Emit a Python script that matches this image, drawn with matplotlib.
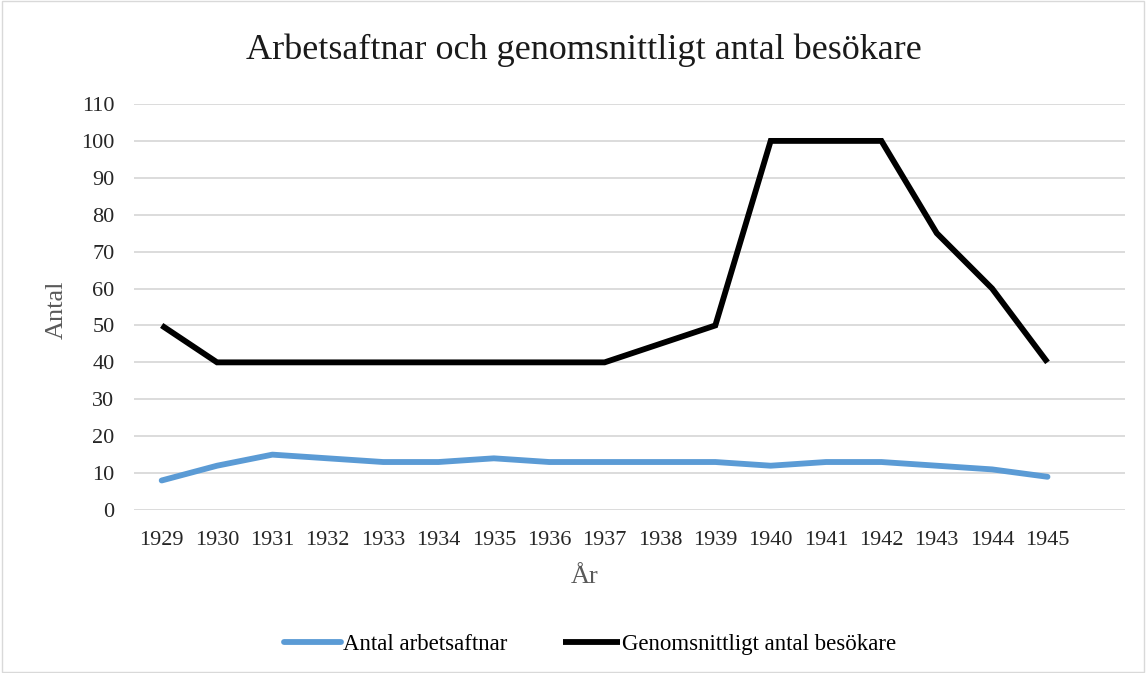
import matplotlib.pyplot as plt
from matplotlib.patches import Rectangle

# Data
years = ['1929', '1930', '1931', '1932', '1933', '1934', '1935', '1936', '1937',
         '1938', '1939', '1940', '1941', '1942', '1943', '1944', '1945']
arbetsaftnar = [8, 12, 15, 14, 13, 13, 14, 13, 13, 13, 13, 12, 13, 13, 12, 11, 9]
besokare = [50, 40, 40, 40, 40, 40, 40, 40, 40, 45, 50, 100, 100, 100, 75, 60, 40]
y_ticks = list(range(0, 111, 10))

plt.rcParams['font.family'] = ['Liberation Serif', 'DejaVu Serif']

fig = plt.figure(figsize=(11.46, 6.73), dpi=100)
ax = fig.add_axes([134 / 1146, 1 - 510 / 673, (1125 - 134) / 1146, (510 - 104) / 673])

x = list(range(len(years)))
ax.plot(x, arbetsaftnar, color='#5B9BD5', lw=4.2, solid_capstyle='round',
        solid_joinstyle='round', label='Antal arbetsaftnar')
ax.plot(x, besokare, color='black', lw=4.2, solid_capstyle='butt',
        solid_joinstyle='miter', label='Genomsnittligt antal besökare')

ax.set_xlim(-0.5, 17.4)
ax.set_ylim(0, 110)
ax.set_yticks(y_ticks)
ax.set_xticks(x)
ax.set_xticklabels(years)
ax.tick_params(length=0, labelsize=16, colors='#262626', pad=15)
ax.tick_params(axis='y', pad=14)
ax.grid(axis='y', color='#D9D9D9', lw=1.3)
ax.set_axisbelow(True)
for s in ax.spines.values():
    s.set_visible(False)

fig.text(585 / 1146, 1 - 577 / 673, 'År', ha='center', va='center',
         fontsize=19, color='#595959')
fig.text(57 / 1146, 1 - 310 / 673, 'Antal', ha='center', va='center',
         rotation=90, fontsize=19, color='#595959')

fig.text(584 / 1146, 1 - 50 / 673, 'Arbetsaftnar och genomsnittligt antal besökare',
         ha='center', va='center', fontsize=26, color='#1a1a1a')

fig.legend(loc='center', bbox_to_anchor=(590 / 1146, 1 - 644 / 673), ncol=2, frameon=False,
           fontsize=16.5, handlelength=2.5, handletextpad=0.1, columnspacing=2.4)

# light chart border
fig.patches.append(Rectangle((0.002, 0.002), 0.996, 0.996, transform=fig.transFigure,
                             fill=False, edgecolor='#D9D9D9', lw=1))

fig.savefig('out.png', dpi=100)
